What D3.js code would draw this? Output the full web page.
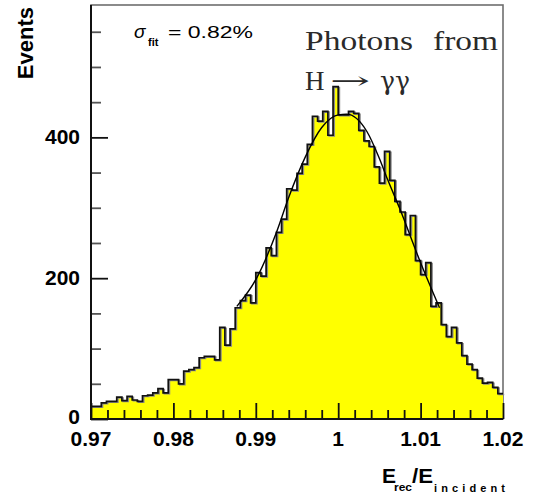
<!DOCTYPE html>
<html>
<head>
<meta charset="utf-8">
<script src="https://cdn.jsdelivr.net/npm/d3@7"></script>
<style>
  body { margin: 0; background: #fff; }
  svg { display: block; }
</style>
</head>
<body>
<div id="chart"></div>
<script>
const WIDTH = 538;
const HEIGHT = 497;
const LEFT = 91, RIGHT = 503, TOP = 5, BOTTOM = 419;

// histogram: 80 bins between 0.97 and 1.02
const xRange = [0.97, 1.02];
const counts = [
  18, 18, 23, 25, 25, 31, 26, 32, 27, 25,
  33, 34, 37, 43, 37, 56, 56, 50, 68, 70,
  73, 87, 89, 89, 84, 130, 105, 128, 158, 168,
  176, 165, 208, 203, 243, 232, 265, 284, 327, 325,
  349, 362, 390, 430, 423, 437, 403, 472, 432, 432,
  437, 434, 410, 395, 387, 358, 335, 380, 339, 309,
  294, 262, 289, 225, 205, 222, 160, 165, 134, 117,
  130, 108, 90, 78, 70, 58, 51, 52, 45, 36
];

// fit curve
const fitX = [0.9877, 0.9901, 0.9925, 0.994, 0.996, 0.998, 1.0, 1.001, 1.0035, 1.005, 1.006, 1.0075, 1.01, 1.0123];
const fitY = [160, 200, 265, 315, 372, 414, 432, 433, 408, 370, 340, 298, 222, 158];

const xTicks = [0.97, 0.98, 0.99, 1, 1.01, 1.02];
const xTickLabels = ["0.97", "0.98", "0.99", "1", "1.01", "1.02"];
const yTicks = [0, 200, 400];
const yMax = 588;

const svg = d3
  .select("#chart")
  .append("svg")
  .attr("width", WIDTH)
  .attr("height", HEIGHT);

const x = d3.scaleLinear().domain(xRange).range([LEFT, RIGHT]);
const y = d3.scaleLinear().domain([0, yMax]).range([BOTTOM, TOP]);

const binWidth = (xRange[1] - xRange[0]) / counts.length;
const steps = counts.map((c, i) => [xRange[0] + i * binWidth, c]);
steps.push([xRange[1], counts[counts.length - 1]]);

// frame
svg.append("rect")
  .attr("x", LEFT).attr("y", TOP)
  .attr("width", RIGHT - LEFT).attr("height", BOTTOM - TOP)
  .attr("fill", "none")
  .attr("stroke", "#6e6e6e")
  .attr("stroke-width", 1.6);

// filled histogram
const area = d3.area()
  .curve(d3.curveStepAfter)
  .x(d => x(d[0]))
  .y0(y(0))
  .y1(d => y(d[1]));

svg.append("path")
  .datum(steps)
  .attr("d", area)
  .attr("fill", "#ffff00");

const line = d3.line()
  .curve(d3.curveStepAfter)
  .x(d => x(d[0]))
  .y(d => y(d[1]));

svg.append("path")
  .datum(steps)
  .attr("d", line)
  .attr("transform", "translate(1.2,0.8)")
  .attr("fill", "none")
  .attr("stroke", "#8a8a8a")
  .attr("stroke-width", 1.6);

svg.append("path")
  .datum(steps)
  .attr("d", line)
  .attr("fill", "none")
  .attr("stroke", "#111")
  .attr("stroke-width", 1.7);

// fit
const fitLine = d3.line()
  .curve(d3.curveMonotoneX)
  .x(d => x(d[0]))
  .y(d => y(d[1]));

svg.append("path")
  .datum(fitX.map((v, i) => [v, fitY[i]]))
  .attr("d", fitLine)
  .attr("fill", "none")
  .attr("stroke", "#000")
  .attr("stroke-width", 1.4);

// axes (ticks pointing inward)
const xAxis = d3.axisTop(x)
  .tickValues(d3.range(0, 26).map(i => xRange[0] + i * 0.002))
  .tickSize(0)
  .tickFormat("");
const xg = svg.append("g").attr("transform", `translate(0,${BOTTOM})`).call(xAxis);
xg.select(".domain").remove();
xg.selectAll(".tick line")
  .attr("y2", (d, i) => (i % 5 === 0 ? -16 : -9))
  .attr("stroke", "#111")
  .attr("stroke-width", 1.8);

const yAxis = d3.axisRight(y)
  .tickValues(d3.range(0, 12).map(i => i * 50))
  .tickSize(0)
  .tickFormat("");
const yg = svg.append("g").attr("transform", `translate(${LEFT},0)`).call(yAxis);
yg.select(".domain").remove();
yg.selectAll(".tick line")
  .attr("x2", (d, i) => (i % 4 === 0 ? 17 : 10))
  .attr("stroke", (d, i) => (i % 4 === 0 ? "#111" : "#555"))
  .attr("stroke-width", 1.8);

// axis lines
svg.append("line")
  .attr("x1", LEFT).attr("x2", LEFT).attr("y1", TOP).attr("y2", BOTTOM + 1)
  .attr("stroke", "#111").attr("stroke-width", 2);
svg.append("line")
  .attr("x1", LEFT - 1).attr("x2", RIGHT).attr("y1", BOTTOM).attr("y2", BOTTOM)
  .attr("stroke", "#111").attr("stroke-width", 2);

const sans = "'Liberation Sans', Arial, sans-serif";
const serif = "'Liberation Serif', 'Times New Roman', serif";

// tick labels
svg.selectAll(".xlab")
  .data(xTicks)
  .enter()
  .append("text")
  .attr("x", d => x(d))
  .attr("y", 446)
  .attr("text-anchor", "middle")
  .style("font-family", sans)
  .style("font-weight", "bold")
  .style("font-size", "21px")
  .text((d, i) => xTickLabels[i]);

svg.selectAll(".ylab")
  .data(yTicks)
  .enter()
  .append("text")
  .attr("x", 80)
  .attr("y", d => y(d) + (d === 0 ? 5 : 7))
  .attr("text-anchor", "end")
  .style("font-family", sans)
  .style("font-weight", "bold")
  .style("font-size", "21px")
  .text(d => d);

// axis titles
svg.append("text")
  .attr("transform", "translate(33,7) rotate(-90)")
  .attr("text-anchor", "end")
  .style("font-family", sans)
  .style("font-weight", "bold")
  .style("font-size", "22px")
  .text("Events");

const xt = svg.append("g").style("font-family", sans).style("font-weight", "bold");
xt.append("text").attr("x", 382).attr("y", 483).style("font-size", "21px").text("E");
xt.append("text").attr("x", 394).attr("y", 491).style("font-size", "11px")
  .attr("textLength", 18).attr("lengthAdjust", "spacingAndGlyphs").text("rec");
xt.append("text").attr("x", 412).attr("y", 483).style("font-size", "21px")
  .attr("textLength", 21).attr("lengthAdjust", "spacingAndGlyphs").text("/E");
xt.append("text").attr("x", 434).attr("y", 492).style("font-size", "11px")
  .attr("textLength", 71).attr("lengthAdjust", "spacing").text("incident");

// sigma label
const sg = svg.append("g").style("font-family", sans);
sg.append("text").attr("x", 134).attr("y", 38).style("font-size", "19px").style("font-style", "italic").text("σ");
sg.append("text").attr("x", 148).attr("y", 46).style("font-size", "11px").style("font-weight", "bold").text("fit");
sg.append("text").attr("x", 168).attr("y", 38).style("font-size", "17px")
  .attr("textLength", 85).attr("lengthAdjust", "spacingAndGlyphs").text("= 0.82%");

// process label
const pg = svg.append("g").style("font-family", serif).style("fill", "#2a2a2a");
pg.append("text").attr("x", 305).attr("y", 50).style("font-size", "28px")
  .attr("textLength", 108).attr("lengthAdjust", "spacingAndGlyphs").text("Photons");
pg.append("text").attr("x", 433).attr("y", 50).style("font-size", "28px")
  .attr("textLength", 65).attr("lengthAdjust", "spacingAndGlyphs").text("from");
pg.append("text").attr("x", 305).attr("y", 90).style("font-size", "27px").text("H");
pg.append("text").attr("x", 330).attr("y", 89).style("font-size", "24px")
  .style("font-family", "'DejaVu Serif', serif")
  .attr("textLength", 40).attr("lengthAdjust", "spacingAndGlyphs").text("→");
pg.append("text").attr("x", 380).attr("y", 90).style("font-size", "26px")
  .style("font-family", "'DejaVu Serif', serif")
  .attr("textLength", 30).attr("lengthAdjust", "spacingAndGlyphs").text("γγ");
</script>
</body>
</html>
